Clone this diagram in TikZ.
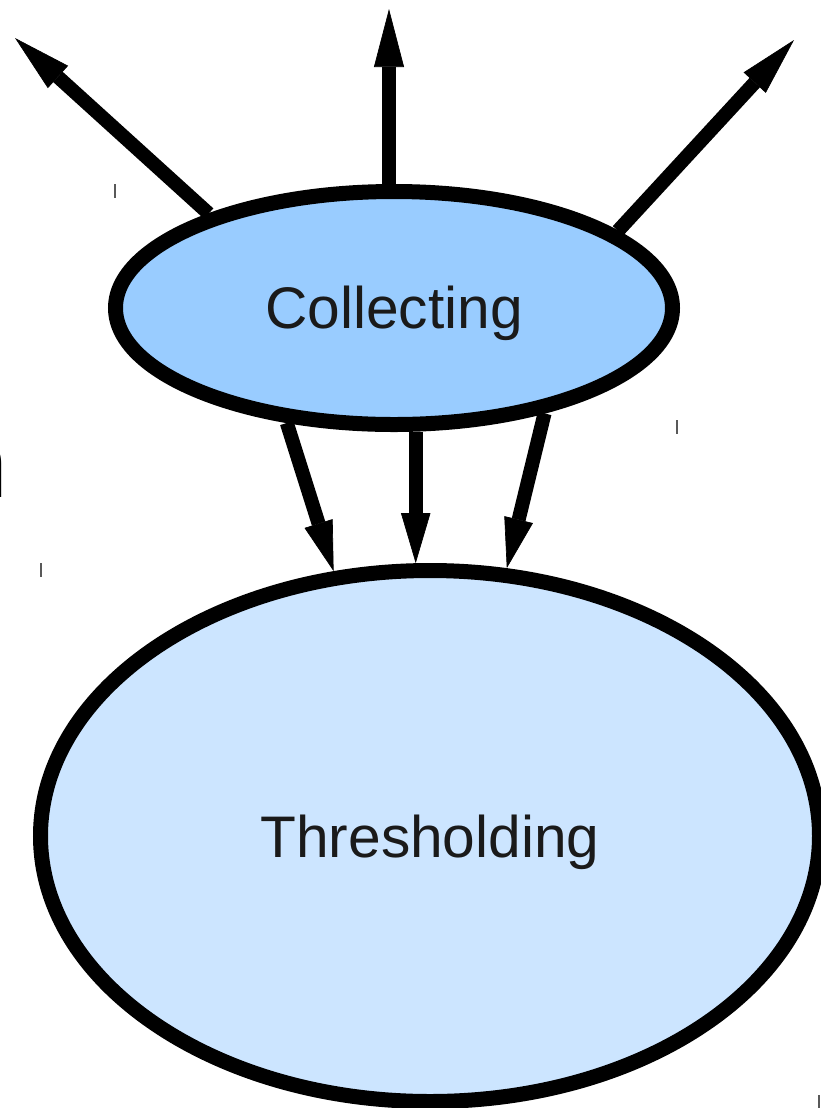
\documentclass[tikz,border=0pt]{standalone}
\usepackage{fontspec}
\setmainfont{Liberation Sans}
\usetikzlibrary{shapes.geometric,arrows.meta}
\definecolor{collfill}{HTML}{99CCFF}
\definecolor{thrfill}{HTML}{CCE5FF}
\definecolor{txt}{HTML}{1A1A1A}
\newcommand{\lowertext}[2]{\raisebox{-#1}[\height][\depth]{#2}}
\begin{document}
\begin{tikzpicture}[x=0.75pt,y=-0.75pt,
  blob/.style={ellipse,draw=black,line width=11.25pt,inner sep=0pt,text=txt,
    font=\fontsize{44}{50}\selectfont},
  toparrow/.style={line width=10.5pt,-{Triangle[length=43.5pt,width=22.5pt,line width=0.5pt]}},
  botarrow/.style={line width=10.5pt,-{Triangle[length=37.5pt,width=22pt,line width=0.5pt]}},
  tick/.style={line width=1.1pt,draw=black!65}]
\useasboundingbox (0,0) rectangle (821,1108);
\node[blob,fill=collfill,minimum width=417.75pt,minimum height=174.75pt] (c) at (394,308) {\lowertext{3.75pt}{Collecting}};
\node[blob,fill=thrfill,minimum width=584.25pt,minimum height=398.25pt] (t) at (430,836) {\lowertext{4.5pt}{Thresholding}};
\coordinate (tl) at (15,38);
\coordinate (tm) at (389,9);
\coordinate (tr) at (794,40);
\draw[toparrow] (c.153.7) -- (tl);
\draw[toparrow] (c.north -| tm) -- (tm);
\draw[toparrow] (c.19.9) -- (tr);
\draw[botarrow] (c.227.2) -- (t.110.2);
\draw[botarrow] (t.93.6 |- c.south) -- (t.93.6);
\draw[botarrow] (c.325.7) -- (t.74.8);
\draw[tick] (115,184) -- (115,198);
\draw[tick] (41,563) -- (41,577);
\draw[tick] (677,420) -- (677,434);
\draw[tick] (819,1095) -- (819,1108);
\node[anchor=base east,inner sep=0pt,text=black,font=\fontsize{72}{80}\selectfont] (n) at (8,497) {n};
\end{tikzpicture}
\end{document}
